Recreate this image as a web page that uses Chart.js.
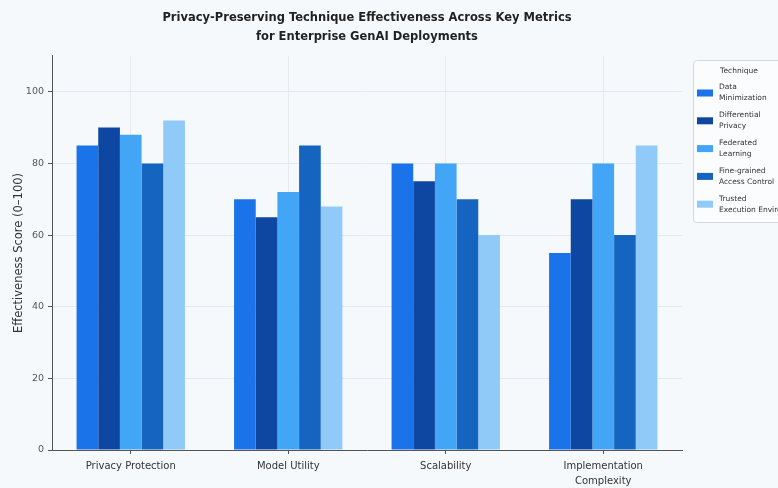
<!DOCTYPE html>
<html>
<head>
<meta charset="utf-8">
<script src="https://cdn.jsdelivr.net/npm/chart.js@4"></script>
<style>
  html, body { margin: 0; padding: 0; background: #f6f9fc; }
  #wrap { width: 778px; height: 488px; }
</style>
</head>
<body>
<div id="wrap"><canvas id="chart" width="778" height="488"></canvas></div>
<script>
const categories = ["Privacy Protection", "Model Utility", "Scalability", ["Implementation", "Complexity"]];
const techniques = [
  ["Data", "Minimization"],
  ["Differential", "Privacy"],
  ["Federated", "Learning"],
  ["Fine-grained", "Access Control"],
  ["Trusted", "Execution Environment"]
];
const dataMinimization = [85, 70, 80, 55];
const differentialPrivacy = [90, 65, 75, 70];
const federatedLearning = [88, 72, 80, 80];
const fineGrainedAccess = [80, 85, 70, 60];
const trustedExecution = [92, 68, 60, 85];
const yTicks = [0, 20, 40, 60, 80, 100];

const colors = ["#1a73e8", "#0d47a1", "#42a5f5", "#1565c0", "#90caf9"];
const series = [dataMinimization, differentialPrivacy, federatedLearning, fineGrainedAccess, trustedExecution];

const FONT = "'DejaVu Sans', sans-serif";

// legend drawn by hand: two-line labels, box running off the right edge
const sideLegend = {
  id: "sideLegend",
  afterDraw(chart) {
    const ctx = chart.ctx;
    ctx.save();
    ctx.fillStyle = "#fbfcfe";
    ctx.strokeStyle = "#d3d9e0";
    ctx.lineWidth = 1;
    ctx.beginPath();
    ctx.roundRect(693.5, 60.5, 100, 162, 3);
    ctx.fill();
    ctx.stroke();

    ctx.fillStyle = "#333";
    ctx.font = "7.5px " + FONT;
    ctx.textAlign = "center";
    ctx.textBaseline = "middle";
    ctx.fillText("Technique", 739, 71);

    ctx.textAlign = "left";
    chart.data.datasets.forEach((ds, i) => {
      const cy = 93 + i * 27.8;
      ctx.fillStyle = ds.backgroundColor;
      ctx.fillRect(697, cy - 3.5, 16, 7);
      ctx.fillStyle = "#333";
      ctx.fillText(ds.label[0], 719, cy - 5.5);
      ctx.fillText(ds.label[1], 719, cy + 5.5);
    });
    ctx.restore();
  }
};

new Chart(document.getElementById("chart"), {
  type: "bar",
  data: {
    labels: categories,
    datasets: series.map((vals, i) => ({
      label: techniques[i],
      data: vals,
      backgroundColor: colors[i],
      borderWidth: 0,
      categoryPercentage: 0.688,
      barPercentage: 1.0
    }))
  },
  options: {
    responsive: false,
    animation: false,
    devicePixelRatio: 1,
    layout: { padding: { left: 12, right: 96, top: 0, bottom: 0 } },
    plugins: {
      legend: { display: false },
      tooltip: { enabled: false },
      title: {
        display: true,
        fullSize: false,
        text: ["Privacy-Preserving Technique Effectiveness Across Key Metrics", "for Enterprise GenAI Deployments"],
        color: "#222",
        font: { family: FONT, size: 11.5, weight: "bold", lineHeight: 1.65 },
        padding: { top: 8.5, bottom: 9.5 }
      }
    },
    scales: {
      x: {
        afterFit: (s) => { s.height = 38; },
        grid: { display: true, offset: false, color: "#e6eaef", drawTicks: true, tickLength: 4, tickColor: "#555" },
        border: { display: true, color: "#555", width: 1 },
        ticks: {
          color: "#333",
          padding: 5,
          maxRotation: 0,
          font: { family: FONT, size: 10, lineHeight: 1.5 }
        }
      },
      y: {
        min: 0,
        max: 110,
        afterFit: (s) => { s.width = 40; },
        afterBuildTicks: (s) => { s.ticks = yTicks.map((v) => ({ value: v })); },
        grid: { color: "#e3e8ee", drawTicks: true, tickLength: 4, tickColor: "#555" },
        border: { display: true, color: "#555", width: 1 },
        ticks: {
          color: "#555",
          padding: 4,
          font: { family: FONT, size: 9.5 }
        },
        title: {
          display: true,
          text: "Effectiveness Score (0–100)",
          color: "#333",
          font: { family: FONT, size: 11.5 },
          padding: { top: 0, bottom: 4 }
        }
      }
    }
  },
  plugins: [sideLegend]
});
</script>
</body>
</html>
